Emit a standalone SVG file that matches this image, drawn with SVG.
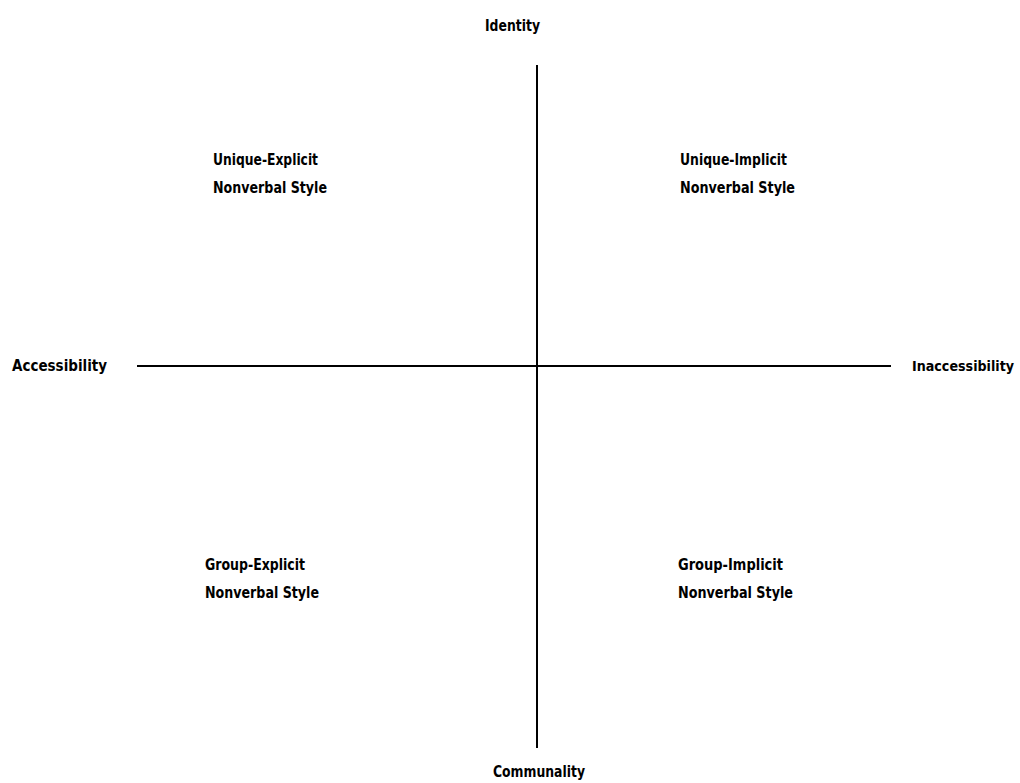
<svg xmlns="http://www.w3.org/2000/svg" width="1020" height="783" viewBox="0 0 1020 783">
<style>
text{font-family:"Liberation Sans Narrow","DejaVu Sans Condensed","Liberation Sans",sans-serif;font-weight:bold;font-size:16px;fill:#000}
.ax{stroke:#000;stroke-width:2;fill:none}
</style>
<rect width="1020" height="783" fill="#fff"/>
<g id="connectors">
<line class="ax" x1="537" y1="65" x2="537" y2="748"/>
<line class="ax" x1="137" y1="366" x2="891" y2="366"/>
</g>
<g id="identity"><text x="485" y="31" textLength="55" lengthAdjust="spacingAndGlyphs">Identity</text></g>
<g id="communality"><text x="493" y="777" textLength="92" lengthAdjust="spacingAndGlyphs">Communality</text></g>
<g id="accessibility"><text x="12" y="371" textLength="95" lengthAdjust="spacingAndGlyphs">Accessibility</text></g>
<g id="inaccessibility"><text x="912" y="371" style="font-size:14.5px" textLength="102" lengthAdjust="spacingAndGlyphs">Inaccessibility</text></g>
<g id="unique-explicit">
<text x="213" y="165" textLength="105" lengthAdjust="spacingAndGlyphs">Unique-Explicit</text>
<text x="213" y="193" textLength="114" lengthAdjust="spacingAndGlyphs">Nonverbal Style</text>
</g>
<g id="unique-implicit">
<text x="680" y="165" textLength="107" lengthAdjust="spacingAndGlyphs">Unique-Implicit</text>
<text x="680" y="193" textLength="115" lengthAdjust="spacingAndGlyphs">Nonverbal Style</text>
</g>
<g id="group-explicit">
<text x="205" y="570" textLength="100" lengthAdjust="spacingAndGlyphs">Group-Explicit</text>
<text x="205" y="598" textLength="114" lengthAdjust="spacingAndGlyphs">Nonverbal Style</text>
</g>
<g id="group-implicit">
<text x="678" y="570" textLength="105" lengthAdjust="spacingAndGlyphs">Group-Implicit</text>
<text x="678" y="598" textLength="115" lengthAdjust="spacingAndGlyphs">Nonverbal Style</text>
</g>
</svg>
